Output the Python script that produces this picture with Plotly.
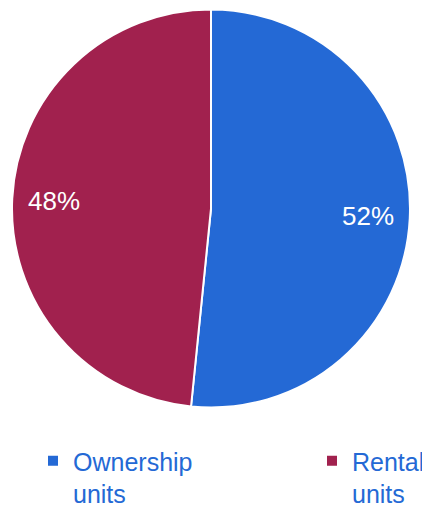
import plotly.graph_objects as go

categories = ["Ownership<br>units", "Rental<br>units"]
values = [51.6, 48.4]
colors = ["#2469d5", "#a1214e"]
legend_text_color = "#2469d5"

# the page body adds an 8px offset, so the figure is sized to the visible area
OFF = 8
W, H = 430 - OFF, 509 - OFF
FONT = "Liberation Sans, Arial, sans-serif"


def px_x(px):
    return (px - OFF) / W


def px_y(py):
    return 1 - (py - OFF) / H


pie_domain = dict(x=[px_x(12), px_x(410)], y=[px_y(408), px_y(9)])

fig = go.Figure()

# main pie (slices)
fig.add_trace(go.Pie(
    labels=categories,
    values=values,
    sort=False,
    direction="clockwise",
    rotation=0,
    marker=dict(colors=colors, line=dict(color="white", width=2)),
    textinfo="none",
    domain=pie_domain,
    showlegend=False,
    hoverinfo="skip",
))

# percentage labels, placed inside the outer ring of the same slices
fig.add_trace(go.Pie(
    labels=categories,
    values=values,
    sort=False,
    direction="clockwise",
    rotation=0,
    hole=0.58,
    marker=dict(colors=["rgba(0,0,0,0)"] * len(values), line=dict(width=0)),
    texttemplate="%{percent:.0%}",
    textposition="inside",
    insidetextorientation="horizontal",
    textfont=dict(family=FONT, size=26, color="white"),
    domain=pie_domain,
    showlegend=False,
    hoverinfo="skip",
))

# legend entries
legend_names = ["legend", "legend2"]
for name, col, lg in zip(categories, colors, legend_names):
    fig.add_trace(go.Scatter(
        x=[None], y=[None], mode="markers", name=name,
        marker=dict(symbol="square", size=10, color=col),
        legend=lg, showlegend=True, hoverinfo="skip",
    ))

leg_common = dict(
    orientation="v",
    yanchor="top", y=px_y(438),
    xanchor="left",
    valign="top",
    font=dict(family=FONT, size=25, color=legend_text_color),
    bgcolor="rgba(0,0,0,0)",
    itemclick=False, itemdoubleclick=False,
)

fig.update_layout(
    width=W, height=H,
    margin=dict(l=0, r=0, t=0, b=0, autoexpand=False),
    paper_bgcolor="white",
    plot_bgcolor="white",
    xaxis=dict(visible=False),
    yaxis=dict(visible=False),
    legend=dict(x=px_x(33), **leg_common),
    legend2=dict(x=px_x(312), **leg_common),
)

fig.write_html("out.html")
